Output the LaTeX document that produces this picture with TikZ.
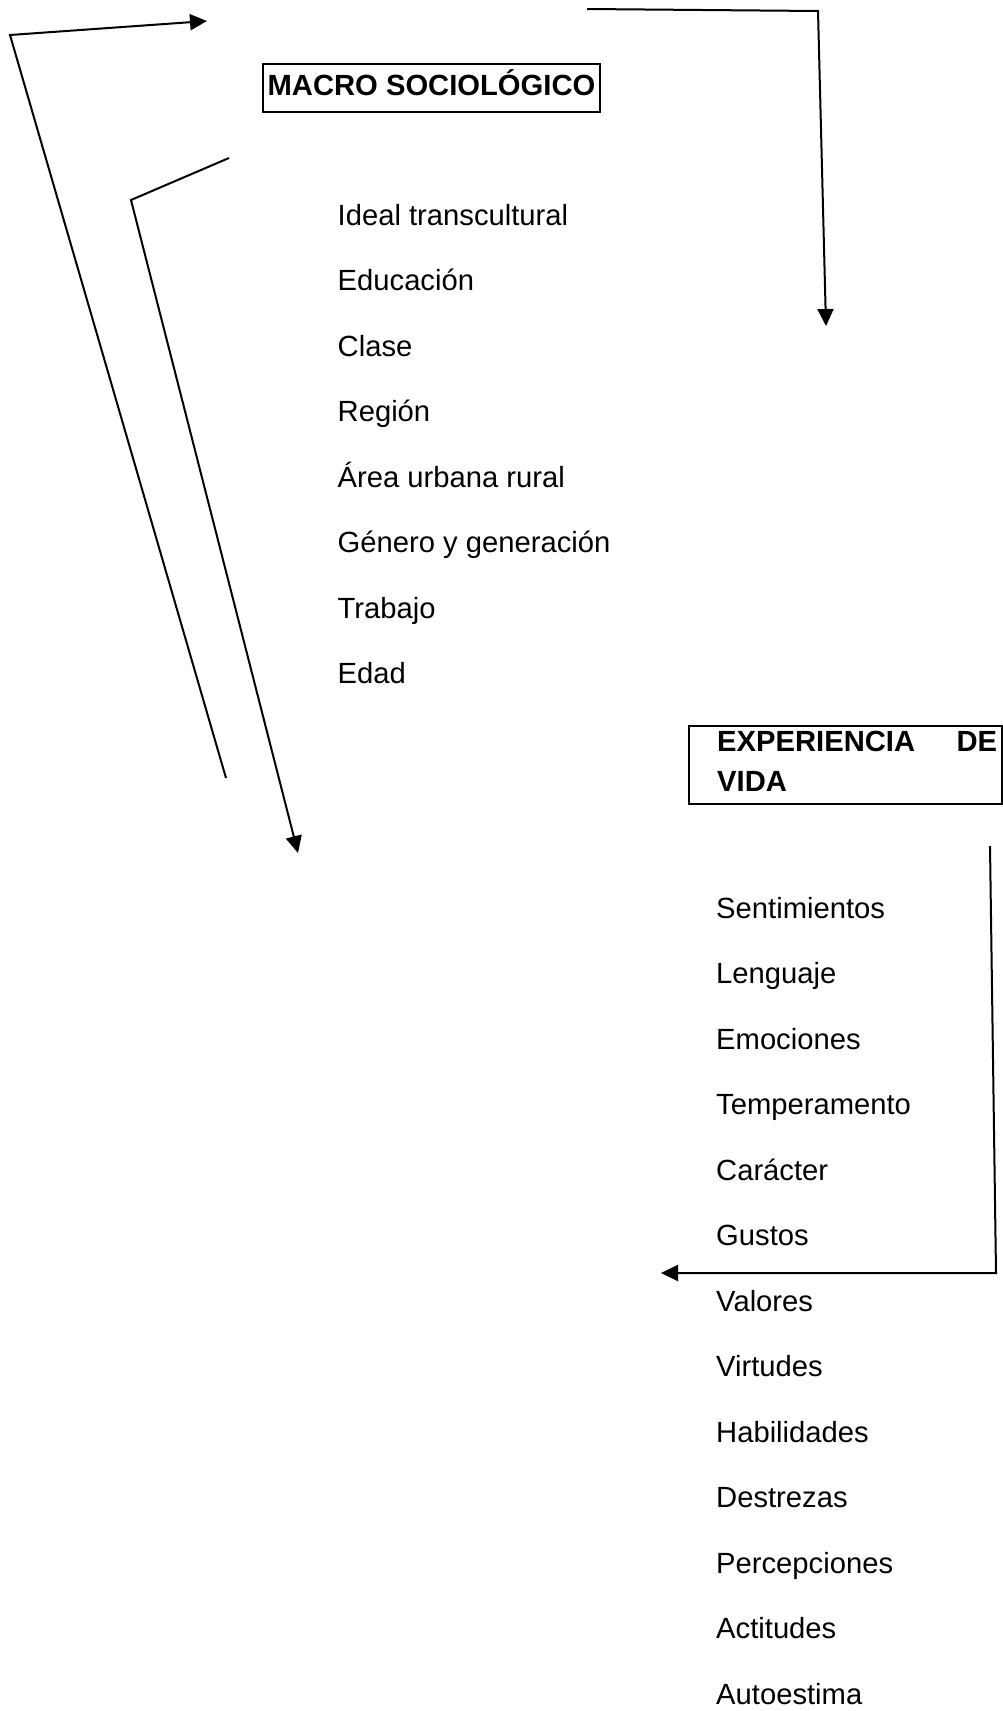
\documentclass[tikz,border=0pt]{standalone}
\usepackage{fontspec}
\setmainfont{Liberation Sans}
\usetikzlibrary{arrows.meta}

\begin{document}
\begin{tikzpicture}[x=1pt, y=-1pt,
  every node/.style={inner sep=0pt, font=\fontsize{29.2}{40}\selectfont},
  item/.style={anchor=base west},
  titlebox/.style={draw, line width=2pt, font=\fontsize{29.2}{40}\selectfont\bfseries},
  flow/.style={line width=2pt, -{Triangle[length=17pt, width=16pt]}}]
  \useasboundingbox (0,0) rectangle (1003,1711);

  % ---- upper block: macro-sociological factors ----
  \node[titlebox, anchor=north west, minimum width=337pt, minimum height=48pt,
        text height=20pt, text depth=6pt] (macro) at (262,63) {MACRO SOCIOLÓGICO};

  \foreach \t [count=\i from 0] in {Ideal transcultural, Educación, Clase, Región,
      Área urbana rural, Género y generación, Trabajo, Edad}
    \node[item] (m\i) at (337.5, 225+65.5*\i) {\t};

  % ---- lower block: life experience ----
  \node[draw, line width=2pt, anchor=north west, minimum width=313pt,
        minimum height=78pt] (expbox) at (688,725) {};
  \node[anchor=north west, text width=280pt, align=left,
        font=\fontsize{29.2}{40}\selectfont\bfseries] (exp) at (717,731)
        {EXPERIENCIA\hfill DE\\VIDA};

  \foreach \t [count=\i from 0] in {Sentimientos, Lenguaje, Emociones, Temperamento,
      Carácter, Gustos, Valores, Virtudes, Habilidades, Destrezas, Percepciones,
      Actitudes, Autoestima}
    \node[item] (e\i) at (716, 918+65.5*\i) {\t};

  % ---- connectors ----
  \coordinate (a1s) at (226,778);
  \coordinate (a1c) at (10,35);
  \coordinate (a1t) at (207,21);
  \draw[flow] (a1s) -- (a1c) -- (a1t);

  \coordinate (a2s) at (229,158);
  \coordinate (a2c) at (131,200);
  \coordinate (a2t) at (298,853);
  \draw[flow] (a2s) -- (a2c) -- (a2t);

  \coordinate (a3s) at (587,9);
  \coordinate (a3c) at (818,11);
  \coordinate (a3t) at (826,326);
  \draw[flow] (a3s) -- (a3c) -- (a3t);

  \coordinate (a4s) at (990,846);
  \coordinate (a4c) at (996,1273);
  \coordinate (a4t) at (661,1273);
  \draw[flow] (a4s) -- (a4c) -- (a4t);
\end{tikzpicture}
\end{document}
